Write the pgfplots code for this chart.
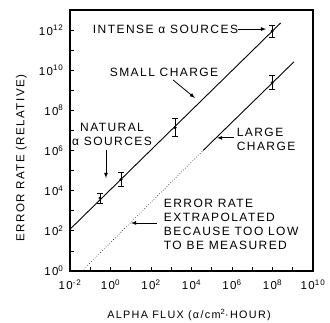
\documentclass[border=0pt]{standalone}
\usepackage{pgfplots}
\pgfplotsset{compat=1.18}
\usepackage{fontspec}
\setmainfont{Liberation Sans}[LetterSpace=12]
\begin{document}
\begin{tikzpicture}
\useasboundingbox (-70pt,-51pt) rectangle (260pt,271pt);
\begin{axis}[
  scale only axis, width=243pt, height=261pt,
  at={(0,0)}, anchor=south west,
  xmode=log, ymode=log,
  xmin=1e-2, xmax=1e10, ymin=1, ymax=1e13,
  xtick={1e-2,1,1e2,1e4,1e6,1e8,1e10},
  xticklabels={10\textsuperscript{-2},10\textsuperscript{0},10\textsuperscript{2},10\textsuperscript{4},10\textsuperscript{6},10\textsuperscript{8},10\textsuperscript{10}},
  minor xtick={1e-1,1e1,1e3,1e5,1e7,1e9},
  ytick={1,1e2,1e4,1e6,1e8,1e10,1e12},
  yticklabels={10\textsuperscript{0},10\textsuperscript{2},10\textsuperscript{4},10\textsuperscript{6},10\textsuperscript{8},10\textsuperscript{10},10\textsuperscript{12}},
  minor ytick={1e1,1e3,1e5,1e7,1e9,1e11},
  tick align=inside, tick pos=left,
  major tick length=4pt, minor tick length=4pt,
  axis line style={line width=1.3pt},
  every tick/.style={black, line width=0.8pt},
  tick label style={font=\fontsize{11.5}{13}\selectfont},
  yticklabel style={xshift=-3pt},
  xticklabel style={yshift=-5pt},
  xlabel={ALPHA FLUX (α/cm\textsuperscript{2}·HOUR)},
  ylabel={ERROR RATE (RELATIVE)},
  every axis x label/.style={at={(axis description cs:0.49,-0.17)}, anchor=center, font=\fontsize{10.8}{12}\selectfont},
  every axis y label/.style={at={(axis description cs:-0.2,0.433)}, rotate=90, anchor=center, font=\fontsize{11.6}{13}\selectfont},
  clip=false,
]
% small charge line
\addplot[black, line width=0.9pt] coordinates {(1e-2,120) (2.51e8,2.24e12)};
% large charge line (measured)
\addplot[black, line width=0.9pt] coordinates {(3.72e4,1e6) (1.15e9,2.63e10)};
% large charge extrapolated
\addplot[black, line width=0.6pt, dotted] coordinates {(0.0389,1) (3.72e4,1e6)};
% error bars
\addplot[black, only marks, mark=*, mark size=1.3pt,
  error bars/.cd, y dir=both, y explicit,
  error bar style={black, line width=0.8pt},
  error mark options={black, rotate=90, mark size=3pt, line width=0.8pt}]
  coordinates {
    (0.302,4266) += (0,3320) -= (0,1867)
    (3.31,36308) += (0,48800) -= (0,20810)
    (1549,1.38e7) += (0,2.509e7) -= (0,8.90e6)
    (9.55e7,8.91e11) += (0,8.87e11) -= (0,4.45e11)
    (9.55e7,2.34e9) += (0,2.90e9) -= (0,1.29e9)
  };
\begin{scope}[font=\fontsize{12}{14}\selectfont]
\node at (rel axis cs:0.393,0.927) {INTENSE α SOURCES};
\draw[-latex, line width=0.8pt] (rel axis cs:0.69,0.927) -- (rel axis cs:0.807,0.927);
\node at (rel axis cs:0.387,0.762) {SMALL CHARGE};
\draw[-latex, line width=0.8pt] (rel axis cs:0.424,0.732) -- (rel axis cs:0.514,0.663);
\node[align=center] at (rel axis cs:0.173,0.525) {NATURAL\\α SOURCES};
\draw[-latex, line width=0.8pt] (rel axis cs:0.148,0.464) -- (rel axis cs:0.148,0.356);
\node[align=left, anchor=west] at (rel axis cs:0.672,0.504) {LARGE\\CHARGE};
\draw[-latex, line width=0.8pt] (rel axis cs:0.675,0.51) -- (rel axis cs:0.605,0.51);
\node[align=left, anchor=west] at (rel axis cs:0.372,0.18) {ERROR RATE\\EXTRAPOLATED\\BECAUSE TOO LOW\\TO BE MEASURED};
\draw[-latex, line width=0.8pt] (rel axis cs:0.358,0.184) -- (rel axis cs:0.251,0.184);
\end{scope}
\draw[line width=1.3pt] (rel axis cs:0,1) -- (rel axis cs:1,1) -- (rel axis cs:1,0);
\end{axis}
\end{tikzpicture}
\end{document}
